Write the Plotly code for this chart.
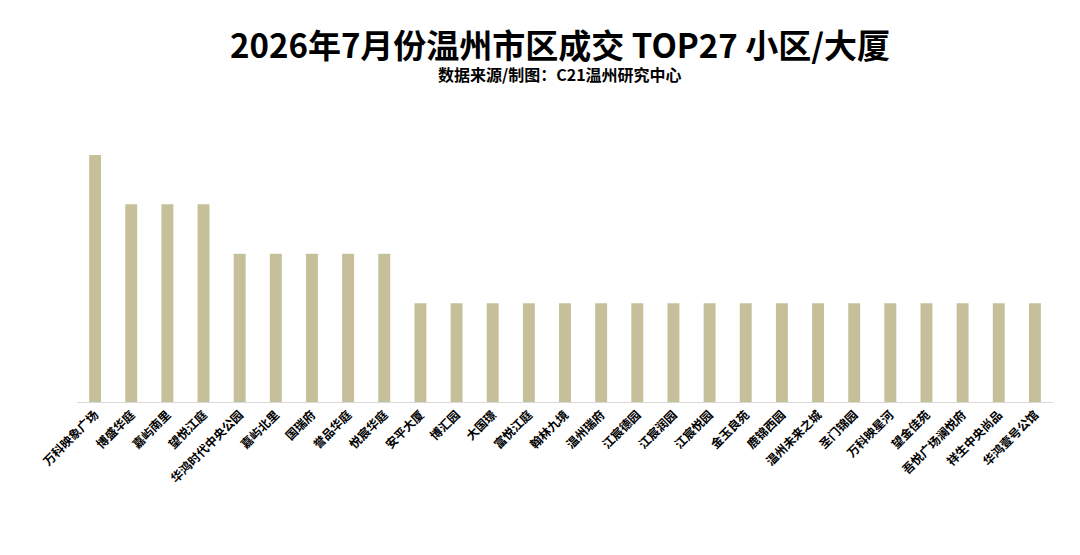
import plotly.graph_objects as go

# 2026年7月 温州市区成交 TOP27 小区/大厦（套数）
names = ["万科映象广场", "博盛华庭", "嘉屿南里", "望悦江庭", "华鸿时代中央公园",
         "嘉屿北里", "国瑞府", "誉品华庭", "悦宸华庭", "安平大厦", "博汇园", "大国璟",
         "富悦江庭", "翰林九境", "温州瑞府", "江宸德园", "江宸润园", "江宸悦园",
         "金玉良苑", "鹿锦西园", "温州未来之城", "圣门锦园", "万科映星河", "望金佳苑",
         "吾悦广场澜悦府", "祥生中央尚品", "华鸿壹号公馆"]
deals = [5, 4, 4, 4, 3, 3, 3, 3, 3, 2, 2, 2, 2, 2, 2, 2, 2, 2,
         2, 2, 2, 2, 2, 2, 2, 2, 2]

title = "2026年7月份温州市区成交 TOP27 小区/大厦"
subtitle = "数据来源/制图：C21温州研究中心"

font_family = "Noto Sans CJK SC, Noto Sans, sans-serif"

fig = go.Figure()
fig.add_trace(go.Bar(
    x=names, y=deals,
    marker=dict(color="#c6c09a", line=dict(width=0)),
    width=0.33,
    hovertemplate="%{x}: %{y}<extra></extra>",
))

# title block (page body adds an 8px offset)
fig.add_annotation(text=f"<b>{title}</b>", xref="paper", yref="paper",
                   x=0.4949, y=1, yanchor="middle", yshift=101, showarrow=False,
                   font=dict(size=33, color="black", family=font_family))
fig.add_annotation(text=f"<b>{subtitle}</b>", xref="paper", yref="paper",
                   x=0.4949, y=1, yanchor="middle", yshift=71, showarrow=False,
                   font=dict(size=16, color="black", family=font_family))

fig.update_layout(
    width=1080, height=555,
    margin=dict(l=69, r=35, t=137, b=161),
    paper_bgcolor="white", plot_bgcolor="white",
    font=dict(family=font_family, color="black"),
    showlegend=False,
    xaxis=dict(tickangle=-45, showline=True, linecolor="#d9d9d9", linewidth=1,
               ticks="", automargin=False,
               tickmode="array", tickvals=names,
               ticktext=[f"<b>{n}</b>" for n in names],
               tickfont=dict(size=12, color="black", family=font_family),
               showgrid=False),
    yaxis=dict(range=[0, 5.2], visible=False, showgrid=False, zeroline=False,
               automargin=False),
)

fig.write_html("out.html")
